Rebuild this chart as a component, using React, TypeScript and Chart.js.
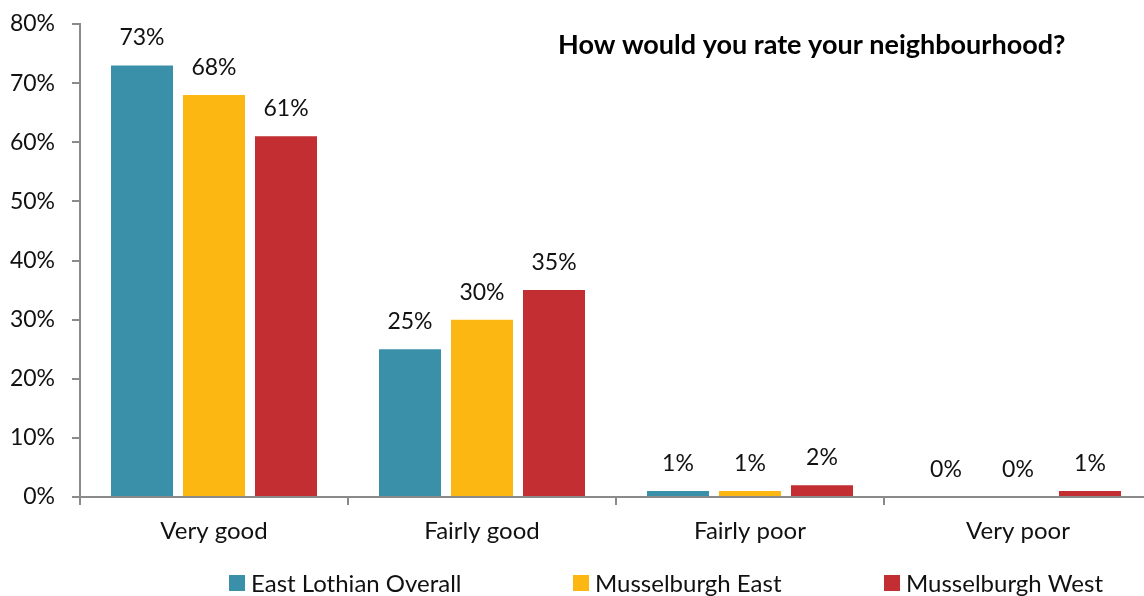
import React, { useEffect, useRef } from "react";
import { Chart, registerables } from "chart.js";

Chart.register(...registerables);

const categories = ["Very good", "Fairly good", "Fairly poor", "Very poor"];
const seriesNames = ["East Lothian Overall", "Musselburgh East", "Musselburgh West"];
const eastLothian = [73, 25, 1, 0];
const musselburghEast = [68, 30, 1, 0];
const musselburghWest = [61, 35, 2, 1];
const seriesColors = ["#3A90A8", "#FDB713", "#C22E31"];
const yTicks = [0, 10, 20, 30, 40, 50, 60, 70, 80];
const titleText = "How would you rate your neighbourhood?";

const FONT = "Lato, 'Open Sans', sans-serif";
const AXIS_COLOR = "#8a8a8a";

const valueLabels = {
  id: "valueLabels",
  afterDatasetsDraw(chart: any) {
    const ctx = chart.ctx;
    ctx.save();
    ctx.font = `23px ${FONT}`;
    ctx.fillStyle = "#111";
    ctx.textAlign = "center";
    ctx.textBaseline = "alphabetic";
    chart.data.datasets.forEach((ds: any, i: number) => {
      const meta = chart.getDatasetMeta(i);
      meta.data.forEach((bar: any, j: number) => {
        ctx.fillText(`${ds.data[j]}%`, bar.x, bar.y - 20);
      });
    });
    ctx.restore();
  },
};

const titleAndLegend = {
  id: "titleAndLegend",
  afterDraw(chart: any) {
    const ctx = chart.ctx;
    ctx.save();
    ctx.font = `bold 27px ${FONT}`;
    ctx.fillStyle = "#000";
    ctx.textAlign = "left";
    ctx.textBaseline = "alphabetic";
    ctx.fillText(titleText, 558, 54);

    const starts = [229, 573, 884];
    ctx.font = `24px ${FONT}`;
    chart.data.datasets.forEach((ds: any, i: number) => {
      const x = starts[i];
      ctx.fillStyle = ds.backgroundColor;
      ctx.fillRect(x, 575, 16, 16);
      ctx.fillStyle = "#111";
      ctx.fillText(ds.label, x + 22, 592);
    });
    ctx.restore();
  },
};

export default function App() {
  const ref = useRef<HTMLCanvasElement>(null);
  useEffect(() => {
    document.body.style.margin = "0";
    document.body.style.overflow = "hidden";
    const seriesData = [eastLothian, musselburghEast, musselburghWest];
    const chart = new Chart(ref.current!, {
      type: "bar",
      data: {
        labels: categories,
        datasets: seriesNames.map((name, i) => ({
          label: name,
          data: seriesData[i],
          backgroundColor: seriesColors[i],
          categoryPercentage: 0.806,
          barPercentage: 0.861,
        })),
      },
      options: {
        responsive: false,
        animation: false,
        layout: { padding: { top: 0, right: 8, bottom: 0, left: 0 } },
        plugins: {
          legend: { display: false },
          tooltip: { enabled: false },
          title: { display: false },
        },
        scales: {
          x: {
            grid: {
              display: true,
              drawOnChartArea: false,
              drawTicks: true,
              tickLength: 8,
              color: AXIS_COLOR,
              lineWidth: 2,
            },
            border: { display: true, color: AXIS_COLOR, width: 2 },
            ticks: {
              color: "#111",
              font: { family: FONT, size: 24 },
              padding: 12,
            },
            afterFit(scale: any) {
              scale.height = 99;
            },
          },
          y: {
            min: 0,
            max: 80,
            afterBuildTicks(scale: any) {
              scale.ticks = yTicks.map((v) => ({ value: v }));
            },
            grid: {
              display: true,
              drawOnChartArea: false,
              drawTicks: true,
              tickLength: 8,
              color: AXIS_COLOR,
              lineWidth: 2,
            },
            border: { display: true, color: AXIS_COLOR, width: 2 },
            ticks: {
              color: "#111",
              font: { family: FONT, size: 23 },
              padding: 17,
              callback: (v: any) => `${v}%`,
            },
            afterFit(scale: any) {
              scale.width = 80;
              scale.paddingTop = 24;
              scale.paddingBottom = 0;
            },
          },
        },
      },
      plugins: [valueLabels, titleAndLegend],
    });
    return () => chart.destroy();
  }, []);
  return (
    <div style={{ width: 1160, height: 596, overflow: "hidden" }}>
      <canvas ref={ref} width={1160} height={596} />
    </div>
  );
}
